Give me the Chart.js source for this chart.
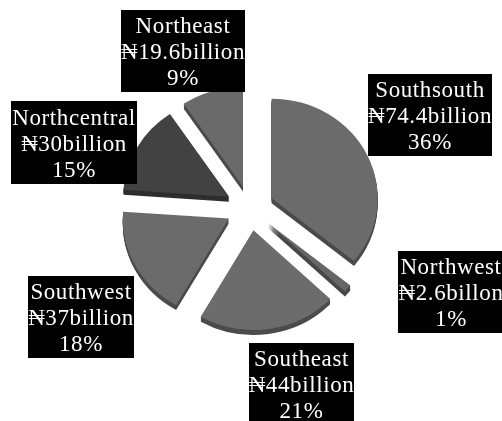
<!DOCTYPE html>
<html>
<head>
<meta charset="utf-8">
<script src="https://cdn.jsdelivr.net/npm/chart.js@4/dist/chart.umd.min.js"></script>
<style>
  html, body { margin: 0; padding: 0; background: #fff; }
  #wrap { width: 502px; height: 421px; position: relative; }
</style>
</head>
<body>
<div id="wrap"><canvas id="myChart"></canvas></div>
<script>
'use strict';
// zones, clockwise from 12 o'clock
const zones = ['Southsouth', 'Northwest', 'Southeast', 'Southwest', 'Northcentral', 'Northeast'];
const amounts = [74.4, 2.6, 44, 37, 30, 19.6];
const unitWords = ['billion', 'billon', 'billion', 'billion', 'billion', 'billion'];
const percents = [36, 1, 21, 18, 15, 9];
const sliceColors = ['#6b6b6b', '#666666', '#6c6c6c', '#6b6b6b', '#424242', '#6a6a6a'];

// label box placement (left, top, width, height)
const boxes = [
  [368, 74, 124, 82],
  [398, 251, 106, 82],
  [249, 343, 105, 82],
  [28, 276, 106, 82],
  [11, 101, 126, 83],
  [121, 10, 124, 82],
];

const EXPLODE = 24;   // how far each slice is pulled out
const DEPTH = 5;      // thickness of the 3d edge
const SQUISH = 0.94;  // slight tilt of the pie

// draws the exploded slices with a darker edge underneath
const explodedPie = {
  id: 'explodedPie',
  beforeDatasetsDraw(chart) {
    const ctx = chart.ctx;
    const arcs = chart.getDatasetMeta(0).data;
    const cx = arcs[0].x, cy = arcs[0].y;
    ctx.save();
    ctx.translate(cx, cy);
    ctx.scale(1, SQUISH);
    ctx.translate(-cx, -cy);
    // edges first
    for (let k = DEPTH; k >= 1; k--) {
      arcs.forEach(arc => {
        const mid = (arc.startAngle + arc.endAngle) / 2;
        ctx.save();
        ctx.translate(Math.cos(mid) * EXPLODE, Math.sin(mid) * EXPLODE + k / SQUISH);
        ctx.filter = 'brightness(0.7)';
        arc.draw(ctx);
        ctx.restore();
      });
    }
    arcs.forEach(arc => {
      const mid = (arc.startAngle + arc.endAngle) / 2;
      ctx.save();
      ctx.translate(Math.cos(mid) * EXPLODE, Math.sin(mid) * EXPLODE);
      arc.draw(ctx);
      ctx.restore();
    });
    ctx.restore();
    return false;
  },
  afterDraw(chart) {
    const ctx = chart.ctx;
    ctx.save();
    ctx.font = '23px "Liberation Serif", "DejaVu Serif", serif';
    ctx.textAlign = 'center';
    ctx.textBaseline = 'middle';
    if ('letterSpacing' in ctx) ctx.letterSpacing = '0.6px';
    zones.forEach((name, i) => {
      const [x, y, w, h] = boxes[i];
      ctx.fillStyle = '#000';
      ctx.fillRect(x, y, w, h);
      ctx.fillStyle = '#fff';
      const mx = x + w / 2, my = y + h / 2 + 2;
      ctx.fillText(name, mx, my - 26);
      ctx.fillText('\u20A6' + amounts[i] + unitWords[i], mx, my);
      ctx.fillText(percents[i] + '%', mx, my + 26);
    });
    ctx.restore();
  },
};

const data = {
  labels: zones,
  datasets: [
    {
      data: amounts,
      backgroundColor: sliceColors,
      borderWidth: 0,
    },
  ],
};

const config = {
  type: 'pie',
  data: data,
  options: {
    responsive: true,
    maintainAspectRatio: false,
    devicePixelRatio: 1,
    animation: false,
    radius: 106,
    layout: {
      padding: { left: 0, right: 2, top: 0, bottom: 5 },
    },
    plugins: {
      legend: { display: false },
      tooltip: { enabled: false },
    },
  },
  plugins: [explodedPie],
};
const myChart = new Chart(document.getElementById('myChart'), config);
</script>
</body>
</html>
